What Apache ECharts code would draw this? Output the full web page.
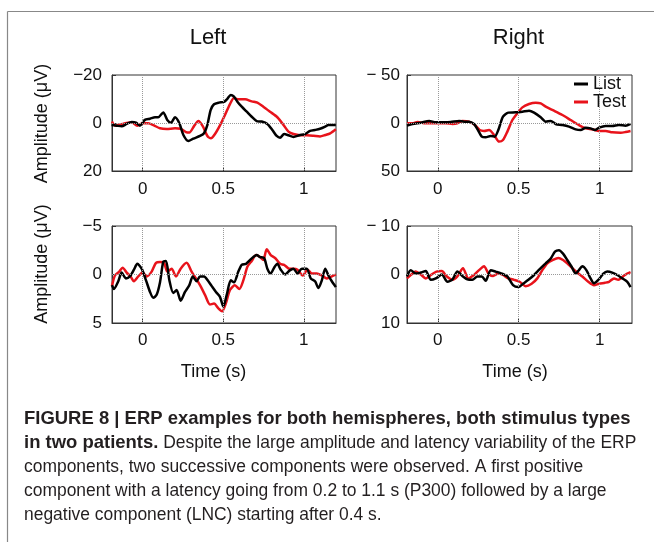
<!DOCTYPE html>
<html>
<head>
<meta charset="utf-8">
<script src="https://cdn.jsdelivr.net/npm/echarts@6/dist/echarts.min.js"></script>
<style>
html,body{margin:0;padding:0;background:#fff;}
#chart{width:654px;height:542px;}
</style>
</head>
<body>
<div id="chart"></div>
<script>
// ---------- DATA ----------
const panelTitles = ['Left', 'Right'];
const seriesNames = ['List', 'Test'];
const xTickValues = [0, 0.5, 1];
const xTickLabels = ['0', '0.5', '1'];
const yRanges = [[-20, 20], [-50, 50], [-5, 5], [-10, 10]];
const yTickLabels = [
  ['\u221220', '0', '20'],
  ['\u2212 50', '0', '50'],
  ['\u22125', '0', '5'],
  ['\u2212 10', '0', '10']
];
const xAxisTitle = 'Time (s)';
const yAxisTitle = 'Amplitude (\u03bcV)';

// [time (s), amplitude (µV)]  — top-left patient, left hemisphere
const topLeftList = [[-0.193,0.8],[-0.161,1.1],[-0.13,1.4],[-0.099,0.4],[-0.068,-0.4],[-0.041,-0.1],[-0.017,1.1],[0.014,-1.3],[0.046,-1.8],[0.077,-2.4],[0.097,-2.4],[0.128,-4.4],[0.153,-1.3],[0.176,-0.1],[0.201,-2.4],[0.228,0.1],[0.253,5.0],[0.284,7.5],[0.315,6.5],[0.356,5.4],[0.381,4.3],[0.402,0.8],[0.422,-5.4],[0.443,-7.8],[0.474,-8.5],[0.505,-8.8],[0.526,-10.1],[0.547,-11.7],[0.567,-11.0],[0.588,-8.9],[0.615,-6.8],[0.646,-4.7],[0.677,-2.6],[0.708,-0.8],[0.739,-0.6],[0.774,0.4],[0.805,2.9],[0.832,5.4],[0.853,6.1],[0.878,4.6],[0.905,5.1],[0.936,5.8],[0.973,5.1],[1.008,4.6],[1.039,3.3],[1.07,2.9],[1.101,2.4],[1.133,1.5],[1.153,0.8],[1.199,0.8]];
const topLeftTest = [[-0.19,-0.6],[-0.172,1.1],[-0.137,0.6],[-0.099,0.0],[-0.068,-0.3],[-0.033,1.1],[0.0,0.1],[0.035,0.1],[0.07,1.0],[0.108,2.2],[0.149,2.5],[0.201,2.2],[0.236,2.4],[0.269,3.8],[0.29,4.0],[0.319,1.3],[0.346,-0.8],[0.373,1.3],[0.402,5.4],[0.424,6.4],[0.449,4.6],[0.48,1.0],[0.511,-3.3],[0.542,-7.9],[0.567,-10.4],[0.594,-9.9],[0.636,-9.9],[0.677,-9.0],[0.712,-8.5],[0.749,-6.8],[0.791,-4.7],[0.836,-2.4],[0.874,0.8],[0.905,3.6],[0.936,4.6],[0.977,5.1],[1.019,5.1],[1.06,5.3],[1.101,5.6],[1.133,5.0],[1.164,4.3],[1.199,2.6]];

// top-right, right hemisphere
const topRightList = [[-0.19,2.8],[-0.156,1.0],[-0.105,-0.3],[-0.053,-2.1],[-0.012,-0.7],[0.039,-0.7],[0.08,-1.0],[0.132,-2.1],[0.163,-1.4],[0.193,-1.4],[0.224,1.0],[0.245,6.3],[0.272,14.2],[0.296,14.9],[0.327,13.5],[0.352,14.2],[0.374,7.3],[0.403,-6.6],[0.436,-10.8],[0.481,-11.1],[0.523,-11.8],[0.564,-12.8],[0.595,-10.8],[0.636,-5.9],[0.667,-1.4],[0.698,-2.1],[0.728,1.0],[0.77,2.1],[0.811,3.8],[0.852,6.6],[0.883,7.3],[0.914,4.9],[0.944,5.6],[0.971,7.3],[0.996,4.9],[1.037,3.1],[1.078,3.1],[1.119,2.1],[1.16,2.8],[1.191,1.0]];
const topRightTest = [[-0.19,0.3],[-0.156,0.3],[-0.125,-1.0],[-0.074,0.3],[-0.012,0.3],[0.049,0.3],[0.091,1.0],[0.121,0.3],[0.152,-2.1],[0.193,-1.4],[0.23,2.1],[0.259,7.3],[0.286,8.3],[0.317,7.3],[0.348,12.5],[0.379,19.4],[0.403,17.7],[0.43,9.0],[0.461,-3.1],[0.492,-10.1],[0.523,-16.3],[0.564,-19.8],[0.605,-21.2],[0.636,-20.5],[0.667,-17.0],[0.718,-12.8],[0.77,-8.3],[0.821,-3.1],[0.872,2.1],[0.914,5.6],[0.955,6.6],[0.996,8.3],[1.037,8.3],[1.078,9.7],[1.13,10.1],[1.16,9.4],[1.191,8.3]];

// bottom-left
const bottomLeftList = [[-0.19,1.1],[-0.178,1.5],[-0.151,0.7],[-0.13,-0.2],[-0.104,0.4],[-0.079,0.2],[-0.054,-0.5],[-0.033,-1.1],[-0.006,-0.6],[0.021,0.6],[0.046,1.8],[0.066,2.4],[0.087,2.1],[0.108,0.8],[0.128,-1.3],[0.145,-1.4],[0.166,0.6],[0.19,1.9],[0.211,1.6],[0.236,2.7],[0.263,1.8],[0.29,1.1],[0.311,0.2],[0.335,0.7],[0.356,0.2],[0.381,0.2],[0.408,0.7],[0.429,1.2],[0.455,1.8],[0.48,2.3],[0.501,3.3],[0.522,2.1],[0.547,0.6],[0.567,0.8],[0.594,-0.3],[0.615,-1.0],[0.642,-1.1],[0.667,-1.5],[0.687,-1.8],[0.708,-2.0],[0.729,-1.8],[0.754,-1.7],[0.774,-0.6],[0.795,-0.1],[0.816,-0.7],[0.836,-1.1],[0.857,-0.5],[0.884,0.0],[0.911,-0.4],[0.936,-0.6],[0.961,-0.1],[0.988,-0.6],[1.019,-0.6],[1.043,0.4],[1.07,0.7],[1.091,1.4],[1.112,0.6],[1.133,-0.6],[1.153,0.1],[1.174,0.7],[1.199,1.3]];
const bottomLeftTest = [[-0.19,1.2],[-0.172,0.1],[-0.145,-0.3],[-0.124,-0.7],[-0.099,-0.2],[-0.075,0.2],[-0.054,0.7],[-0.027,0.2],[0.0,-0.2],[0.025,0.2],[0.056,-0.3],[0.083,-1.2],[0.108,-1.3],[0.133,-1.2],[0.153,-0.3],[0.18,-0.6],[0.207,0.2],[0.236,-0.6],[0.273,-1.2],[0.304,-0.3],[0.331,0.4],[0.356,1.1],[0.387,2.1],[0.418,3.1],[0.443,3.0],[0.47,3.5],[0.493,3.8],[0.516,3.0],[0.542,1.6],[0.573,1.1],[0.6,1.5],[0.625,0.6],[0.65,-0.8],[0.677,-1.4],[0.704,-2.0],[0.729,-1.8],[0.749,-1.5],[0.77,-2.6],[0.795,-2.0],[0.822,-1.7],[0.853,-1.1],[0.878,-1.0],[0.911,-0.6],[0.936,-0.6],[0.961,-0.5],[0.994,0.1],[1.023,-0.5],[1.05,-0.1],[1.081,-0.1],[1.112,0.1],[1.143,0.4],[1.174,0.2],[1.199,0.0]];

// bottom-right
const bottomRightList = [[-0.19,0.4],[-0.167,-0.9],[-0.136,-0.2],[-0.105,-0.4],[-0.074,-0.7],[-0.043,1.1],[-0.012,0.8],[0.025,0.0],[0.06,1.5],[0.091,1.0],[0.121,-0.6],[0.152,0.3],[0.183,1.0],[0.214,1.1],[0.245,0.4],[0.272,0.4],[0.296,1.3],[0.327,-0.9],[0.358,-0.6],[0.395,-0.2],[0.43,0.4],[0.465,2.2],[0.498,2.6],[0.527,1.9],[0.56,1.1],[0.595,0.1],[0.63,-1.1],[0.667,-2.3],[0.698,-3.3],[0.724,-4.7],[0.749,-5.0],[0.774,-4.3],[0.8,-3.0],[0.827,-1.6],[0.852,-0.2],[0.872,-0.9],[0.893,-1.7],[0.918,-0.9],[0.944,0.8],[0.965,1.8],[0.992,1.1],[1.021,-0.1],[1.047,-0.6],[1.078,-0.4],[1.109,0.1],[1.14,0.8],[1.171,1.5],[1.191,2.6]];
const bottomRightTest = [[-0.19,0.8],[-0.167,0.1],[-0.136,-0.6],[-0.105,0.0],[-0.074,0.8],[-0.043,0.1],[-0.008,-0.6],[0.025,-0.7],[0.053,0.3],[0.091,1.1],[0.121,0.4],[0.156,-1.3],[0.189,0.8],[0.224,0.1],[0.255,-0.9],[0.286,-1.7],[0.313,-0.2],[0.342,0.3],[0.374,-0.2],[0.403,0.1],[0.436,0.8],[0.471,1.1],[0.506,1.5],[0.543,2.4],[0.58,1.9],[0.615,0.8],[0.646,-0.9],[0.677,-2.3],[0.712,-3.0],[0.745,-3.4],[0.774,-3.0],[0.8,-2.3],[0.831,-1.3],[0.862,-0.4],[0.893,0.4],[0.93,1.5],[0.965,2.2],[0.996,1.9],[1.033,1.7],[1.058,1.5],[1.089,0.8],[1.115,1.1],[1.144,0.4],[1.171,-0.2],[1.191,-0.5]];

const captionLines = [
  [['b', 'FIGURE 8 | ERP examples for both hemispheres, both stimulus types']],
  [['b', 'in two patients.'], ['r', ' Despite the large amplitude and latency variability of the ERP']],
  [['r', 'components, two successive components were observed. A first positive']],
  [['r', 'component with a latency going from 0.2 to 1.1 s (P300) followed by a large']],
  [['r', 'negative component (LNC) starting after 0.4 s.']]
];

// ---------- LAYOUT / STYLE ----------
const FONT = '"Liberation Sans", Arial, Helvetica, sans-serif';
const CAPFONT = '"Liberation Sans Narrow", "Liberation Sans", Arial, sans-serif';
const AX = '#333';
const grids = [
  {left: 112, top: 75, width: 224, height: 96},
  {left: 407, top: 75, width: 225, height: 96},
  {left: 112, top: 226, width: 224, height: 97},
  {left: 407, top: 226, width: 225, height: 97}
];
const yLabelMargin = [10, 7, 10, 7];
const panelData = [
  [topLeftList, topLeftTest],
  [topRightList, topRightTest],
  [bottomLeftList, bottomLeftTest],
  [bottomRightList, bottomRightTest]
];

// caption font sizes fitted to reference line widths
const cv = document.createElement('canvas').getContext('2d');
function fit(text, weight, target) {
  cv.font = weight + ' 100px ' + CAPFONT;
  return 100 * target / cv.measureText(text).width;
}
const capBold = fit(captionLines[0][0][1], 'bold', 607);
const capReg = fit(captionLines[3][0][1], 'normal', 583);

const chart = echarts.init(document.getElementById('chart'), null, {renderer: 'canvas'});

const xAxes = grids.map((g, i) => ({
  type: 'value', gridIndex: i, min: -0.19, max: 1.2,
  axisLine: {show: true, onZero: false, lineStyle: {color: AX, width: 1}},
  axisTick: {show: true, inside: true, length: 4, customValues: xTickValues, lineStyle: {color: AX}},
  axisLabel: {customValues: xTickValues, fontSize: 17, color: '#111', fontFamily: FONT,
    margin: i < 2 ? 10 : 9,
    formatter: v => xTickLabels[xTickValues.indexOf(v)] ?? ''},
  splitLine: {show: false}
}));
const yAxes = grids.map((g, i) => ({
  type: 'value', gridIndex: i, inverse: true,
  min: yRanges[i][0], max: yRanges[i][1], interval: yRanges[i][1],
  axisLine: {show: true, onZero: false, lineStyle: {color: AX, width: 1}},
  axisTick: {show: true, inside: true, length: 4, lineStyle: {color: AX}},
  axisLabel: {fontSize: 17, color: '#111', fontFamily: FONT, margin: yLabelMargin[i],
    formatter: v => {
      const idx = [yRanges[i][0], 0, yRanges[i][1]].indexOf(v);
      return idx >= 0 ? yTickLabels[i][idx] : '';
    }},
  splitLine: {show: false}
}));

const series = [];
panelData.forEach((pair, i) => {
  series.push({
    type: 'line', name: 'gridlines' + i, xAxisIndex: i, yAxisIndex: i, data: [], z: 1,
    silent: true, symbol: 'none',
    markLine: {
      silent: true, symbol: 'none', label: {show: false},
      lineStyle: {type: 'dotted', color: '#999', width: 1},
      emphasis: {disabled: true},
      data: xTickValues.map(v => ({xAxis: v})).concat([{yAxis: 0}])
    }
  });
  pair.forEach((d, k) => {
    series.push({
      type: 'line', name: seriesNames[k], xAxisIndex: i, yAxisIndex: i,
      data: d, showSymbol: false, symbol: 'none', smooth: 0.25,
      lineStyle: {color: k === 0 ? '#000' : '#e8131b', width: 2.5},
      itemStyle: {color: k === 0 ? '#000' : '#e8131b'},
      z: k === 0 ? 3 : 2
    });
  });
});

const graphics = [
  {type: 'line', shape: {x1: 7.5, y1: 11.5, x2: 654, y2: 11.5}, style: {stroke: '#888', lineWidth: 1.2}, silent: true},
  {type: 'line', shape: {x1: 7.5, y1: 11.5, x2: 7.5, y2: 542}, style: {stroke: '#888', lineWidth: 1.2}, silent: true},
  {type: 'text', x: 208, y: 38, style: {text: panelTitles[0], font: '22px ' + FONT, fill: '#111', align: 'center', verticalAlign: 'middle'}},
  {type: 'text', x: 518.5, y: 38, style: {text: panelTitles[1], font: '22px ' + FONT, fill: '#111', align: 'center', verticalAlign: 'middle'}},
  {type: 'text', x: 42, y: 123.5, rotation: Math.PI / 2, style: {text: yAxisTitle, font: '18px ' + FONT, fill: '#111', align: 'center', verticalAlign: 'middle'}},
  {type: 'text', x: 42, y: 264, rotation: Math.PI / 2, style: {text: yAxisTitle, font: '18px ' + FONT, fill: '#111', align: 'center', verticalAlign: 'middle'}},
  {type: 'text', x: 213.5, y: 372, style: {text: xAxisTitle, font: '18px ' + FONT, fill: '#111', align: 'center', verticalAlign: 'middle'}},
  {type: 'text', x: 515, y: 372, style: {text: xAxisTitle, font: '18px ' + FONT, fill: '#111', align: 'center', verticalAlign: 'middle'}}
];
const capY = [419, 443, 467, 491, 515];
captionLines.forEach((segs, li) => {
  graphics.push({
    type: 'text', x: 24, y: capY[li],
    style: {
      text: segs.map(s => '{' + s[0] + '|' + s[1] + '}').join(''),
      verticalAlign: 'middle', align: 'left',
      rich: {
        b: {fontFamily: CAPFONT, fontWeight: 'bold', fontSize: capBold, fill: '#231f20'},
        r: {fontFamily: CAPFONT, fontWeight: 'normal', fontSize: capReg, fill: '#231f20'}
      }
    }
  });
});

chart.setOption({
  backgroundColor: '#fff',
  animation: false,
  grid: grids.map(g => Object.assign({show: true, borderColor: AX, borderWidth: 1, backgroundColor: 'transparent'}, g)),
  xAxis: xAxes,
  yAxis: yAxes,
  legend: {
    data: seriesNames, orient: 'vertical', left: 574, top: 75, padding: 0,
    itemWidth: 14, itemHeight: 3, icon: 'rect', itemGap: 0,
    textStyle: {fontSize: 18, lineHeight: 18, color: '#111', fontFamily: FONT}
  },
  series: series,
  graphic: graphics
});
</script>
</body>
</html>
